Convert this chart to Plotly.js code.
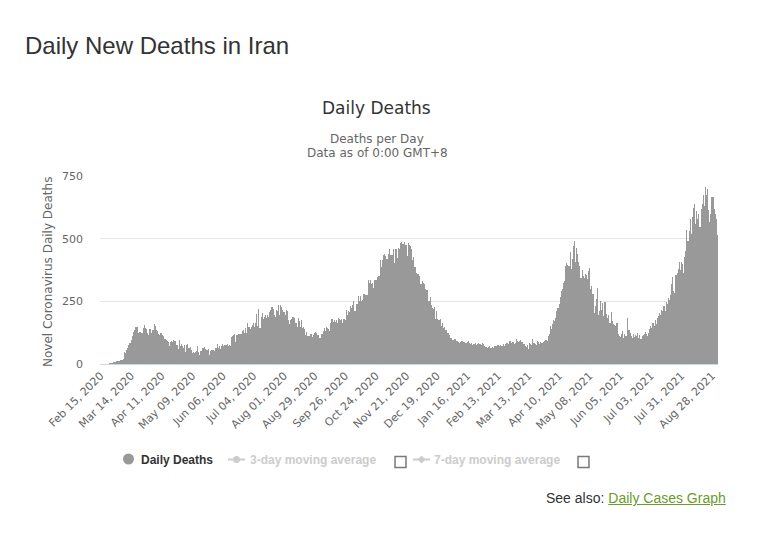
<!DOCTYPE html>
<html>
<head>
<meta charset="utf-8">
<script src="https://cdn.plot.ly/plotly-3.0.1.min.js"></script>
<style>
  html, body { margin: 0; padding: 0; background: #ffffff; width: 775px; height: 543px; overflow: hidden; }
  #chart { position: absolute; left: 0; top: 0; width: 775px; height: 543px; }
  #pageTitle { position: absolute; left: 25px; top: 34px; font-family: 'Liberation Sans', Arial, sans-serif; font-size: 24px; line-height: 24px; color: #333333; white-space: nowrap; }
  #seeAlso { position: absolute; left: 546px; top: 491px; font-family: 'Liberation Sans', Arial, sans-serif; font-size: 14px; line-height: 14px; color: #333333; white-space: nowrap; }
  #seeAlso a { color: #6a9b2b; text-decoration: underline; }
</style>
</head>
<body>
<div id="chart"></div>
<div id="pageTitle">Daily New Deaths in Iran</div>
<div id="seeAlso">See also: <a href="#">Daily Cases Graph</a></div>
<script>
// ---- Data (daily new deaths, Iran) ----
const startDate = '2020-02-15';
const deaths2020Feb = [0,0,0,0,2,0,2,1,3,4,4,3,7,8,9];
const deaths2020Mar = [11,12,11,15,15,17,21,49,43,54,63,75,85,97,113,129,135,147,149,149,123,129,127,122,143,157,144,139,123,117,141];
const deaths2020Apr = [138,124,134,158,151,136,133,121,117,122,125,117,111,98,94,92,89,73,87,91,88,94,90,93,76,60,96,71,80,71];
const deaths2020May = [63,74,47,74,78,63,68,55,45,48,45,48,50,71,48,35,51,65,62,69,58,56,57,58,34,50,57,56,50,63,65];
const deaths2020Jun = [81,64,70,59,72,78,70,75,74,81,71,75,71,107,113,115,120,87,116,119,121,119,121,133,134,123,144,125,162,147];
const deaths2020Jul = [141,148,154,163,148,163,200,153,221,142,188,203,179,189,194,183,195,188,209,217,229,221,195,188,216,212,235,196,235,226,216];
const deaths2020Aug = [208,194,215,212,174,161,174,181,189,189,183,163,149,184,171,147,174,142,147,139,116,129,111,112,121,119,109,117,125,129,125];
const deaths2020Sep = [115,117,103,119,119,133,144,133,149,144,140,130,164,178,167,175,166,175,164,184,179,175,178,165,180,177,215,195,211,209];
const deaths2020Oct = [233,222,235,251,211,239,239,272,253,273,251,254,279,279,274,275,337,322,337,321,322,305,335,335,337,346,353,415,385,414,434];
const deaths2020Nov = [440,431,419,418,440,459,434,434,459,402,457,457,423,461,459,482,486,479,485,474,475,431,483,475,469,457,413,426,388,362];
const deaths2020Dec = [358,359,350,321,321,330,323,321,300,296,252,251,267,236,225,221,229,179,213,181,175,178,153,162,143,147,134,134,125,125,114];
const deaths2021Jan = [104,94,96,101,99,92,90,87,85,88,91,89,87,85,82,86,90,84,80,82,77,79,82,76,80,85,78,80,77,83,81];
const deaths2021Feb = [72,68,65,67,70,64,63,66,62,70,72,73,76,70,74,73,73,80,72,78,82,84,81,92,84,86,87,79];
const deaths2021Mar = [84,98,90,86,92,95,88,80,78,70,66,74,60,82,80,76,98,84,79,75,92,86,80,88,84,82,88,90,96,92,110];
const deaths2021Apr = [120,150,140,160,175,170,185,210,225,240,268,290,300,323,330,392,403,395,391,448,380,420,470,491,408,463,437,405,392,343];
const deaths2021May = [377,351,343,360,355,340,372,383,300,310,280,203,230,260,303,195,210,250,215,243,190,249,200,185,196,165,163,208,170,160,154];
const deaths2021Jun = [150,163,120,112,108,121,130,102,118,110,110,183,135,124,111,104,120,108,117,113,125,103,116,98,110,115,120,126,118,112];
const deaths2021Jul = [125,140,150,145,165,150,175,160,185,190,205,195,215,213,230,212,249,240,263,255,275,320,347,290,283,357,365,380,407,375,407];
const deaths2021Aug = [400,363,425,450,534,490,530,577,520,588,622,640,560,610,580,600,545,620,640,674,630,707,673,700,614,568,600,665,666,620,600];
const deaths2021Sep = [580,514];

const dailyDeaths = [].concat(
  deaths2020Feb, deaths2020Mar, deaths2020Apr, deaths2020May, deaths2020Jun, deaths2020Jul,
  deaths2020Aug, deaths2020Sep, deaths2020Oct, deaths2020Nov, deaths2020Dec,
  deaths2021Jan, deaths2021Feb, deaths2021Mar, deaths2021Apr, deaths2021May, deaths2021Jun,
  deaths2021Jul, deaths2021Aug, deaths2021Sep
);

const yTicks = [0, 250, 500, 750];
const tickEveryDays = 28;
const monthNames = ['Jan','Feb','Mar','Apr','May','Jun','Jul','Aug','Sep','Oct','Nov','Dec'];

// ---- Categories (one date per bar) ----
function isoDay(i) {
  const d = new Date(startDate + 'T00:00:00Z');
  d.setUTCDate(d.getUTCDate() + i);
  return d;
}
function iso(d) { return d.toISOString().slice(0, 10); }
const dates = dailyDeaths.map((_, i) => iso(isoDay(i)));
const tickVals = [], tickText = [];
for (let i = 0; i < dates.length; i += tickEveryDays) {
  const d = isoDay(i);
  tickVals.push(dates[i]);
  tickText.push(monthNames[d.getUTCMonth()] + ' ' + String(d.getUTCDate()).padStart(2, '0') + ', ' + d.getUTCFullYear());
}

// ---- Geometry helpers (plot area: x 100..718, y 176..364) ----
const L = 100, R = 718, T = 176, B = 364;
const W = R - L, H = B - T;
const px = x => (x - L) / W;
const py = y => (B - y) / H;

const fontMain = 'DejaVu Sans, Lucida Grande, sans-serif';
const fontLegend = 'Liberation Sans, Arial, sans-serif';

const trace = {
  type: 'bar',
  x: dates,
  y: dailyDeaths,
  marker: { color: '#999999', line: { width: 0 } },
  hoverinfo: 'skip',
  showlegend: false
};

const annotations = [
  { text: 'Daily Deaths', x: px(376.5), y: py(108), xanchor: 'center', yanchor: 'middle',
    font: { family: fontMain, size: 17, color: '#333333' } },
  { text: 'Deaths per Day', x: px(377), y: py(138.5), xanchor: 'center', yanchor: 'middle',
    font: { family: fontMain, size: 12, color: '#666666' } },
  { text: 'Data as of 0:00 GMT+8', x: px(377), y: py(152.8), xanchor: 'center', yanchor: 'middle',
    font: { family: fontMain, size: 12, color: '#666666' } },
  { text: 'Novel Coronavirus Daily Deaths', x: px(48), y: py(272), xanchor: 'center', yanchor: 'middle',
    textangle: -90, font: { family: fontMain, size: 12, color: '#666666' } },
  // legend texts
  { text: '<b>Daily Deaths</b>', x: px(140), y: py(460), xanchor: 'left', yanchor: 'middle',
    font: { family: fontLegend, size: 12, color: '#333333' } },
  { text: '<b>3-day moving average</b>', x: px(248.5), y: py(460), xanchor: 'left', yanchor: 'middle',
    font: { family: fontLegend, size: 12, color: '#cccccc' } },
  { text: '<b>7-day moving average</b>', x: px(432.5), y: py(460), xanchor: 'left', yanchor: 'middle',
    font: { family: fontLegend, size: 12, color: '#cccccc' } }
].map(a => Object.assign({ xref: 'paper', yref: 'paper', showarrow: false, borderpad: 0 }, a));

function circle(cx, cy, r, color) {
  return { type: 'circle', xref: 'paper', yref: 'paper',
    x0: px(cx - r), x1: px(cx + r), y0: py(cy + r), y1: py(cy - r),
    fillcolor: color, line: { width: 0 } };
}
function hline(x0, x1, y, color) {
  return { type: 'line', xref: 'paper', yref: 'paper', x0: px(x0), x1: px(x1), y0: py(y), y1: py(y),
    line: { color: color, width: 2 } };
}
function box(x0, y0, x1, y1) {
  return { type: 'rect', xref: 'paper', yref: 'paper', x0: px(x0), x1: px(x1), y0: py(y1), y1: py(y0),
    fillcolor: '#ffffff', line: { color: '#7a7a7a', width: 1.5 } };
}
function diamond(cx, cy, r, color) {
  const p = (x, y) => px(x).toFixed(5) + ',' + py(y).toFixed(5);
  return { type: 'path', xref: 'paper', yref: 'paper',
    path: 'M' + p(cx, cy - r) + ' L' + p(cx + r, cy) + ' L' + p(cx, cy + r) + ' L' + p(cx - r, cy) + ' Z',
    fillcolor: color, line: { width: 0 } };
}

const shapes = [
  circle(128.5, 459, 5.5, '#999999'),
  hline(228, 245, 459.5, '#cccccc'),
  circle(236.5, 459.5, 3.5, '#cccccc'),
  box(395, 456.5, 406, 467.5),
  hline(413, 430, 459.5, '#cccccc'),
  diamond(421.5, 459.5, 4, '#cccccc'),
  box(578, 456.5, 589, 467.5)
];

const layout = {
  width: 775, height: 543,
  margin: { l: L, r: 775 - R, t: T, b: 543 - B, pad: 0 },
  paper_bgcolor: '#ffffff', plot_bgcolor: '#ffffff',
  bargap: 0,
  showlegend: false,
  xaxis: {
    type: 'date',
    range: [isoDay(0).getTime() - 43200000, isoDay(dailyDeaths.length - 1).getTime() + 43200000],
    tickmode: 'array', tickvals: tickVals, ticktext: tickText,
    tickangle: -45, ticks: '', showgrid: false, zeroline: false,
    showline: true, linecolor: '#ccd6eb', linewidth: 1,
    tickfont: { family: fontMain, size: 11, color: '#666666' },
    fixedrange: true
  },
  yaxis: {
    range: [0, 750], tickmode: 'array', tickvals: yTicks,
    ticks: '', showgrid: true, gridcolor: '#e6e6e6', gridwidth: 1,
    zeroline: false, showline: false, ticklabelstandoff: 16,
    tickfont: { family: fontMain, size: 11, color: '#666666' },
    fixedrange: true
  },
  annotations: annotations,
  shapes: shapes
};

Plotly.newPlot('chart', [trace], layout, { staticPlot: true, displayModeBar: false });
</script>
</body>
</html>
